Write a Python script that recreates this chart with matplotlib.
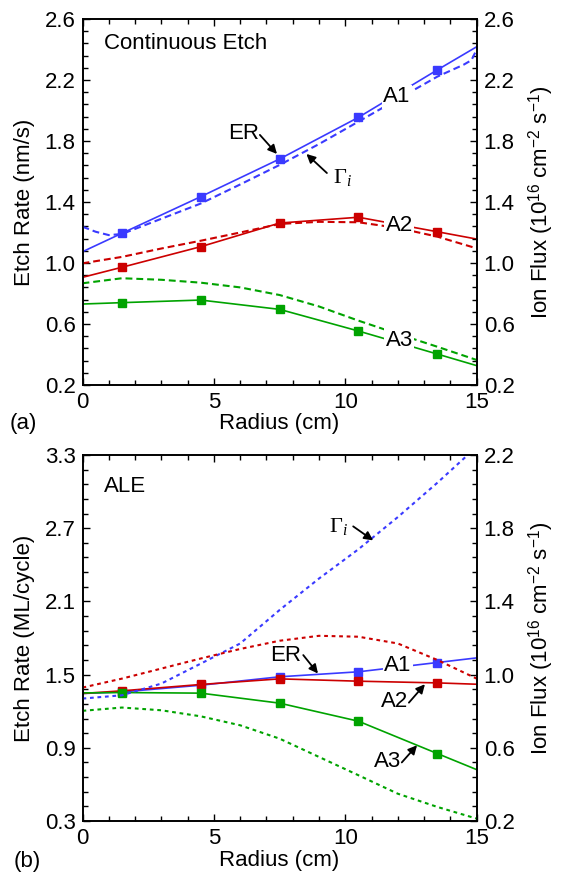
import numpy as np
import matplotlib
matplotlib.use('Agg')
import matplotlib.pyplot as plt
from matplotlib.ticker import MultipleLocator, FixedLocator, FormatStrFormatter

plt.rcParams['font.family'] = ['Liberation Sans', 'DejaVu Sans']
plt.rcParams['font.size'] = 16
plt.rcParams['mathtext.fontset'] = 'custom'
plt.rcParams['mathtext.rm'] = 'Liberation Sans'
plt.rcParams['mathtext.sf'] = 'Liberation Serif'
plt.rcParams['mathtext.it'] = 'Liberation Serif:italic'

# --- data -------------------------------------------------------------
# etch rate (solid, left axis): ends at 0 and 15, markers at 1.5 ... 13.5
r_er = [0, 1.5, 4.5, 7.5, 10.5, 13.5, 15]

# (a) continuous etch, nm/s
ce_er_a1 = [1.074, 1.195, 1.435, 1.682, 1.955, 2.266, 2.418]
ce_er_a2 = [0.906, 0.972, 1.107, 1.262, 1.300, 1.205, 1.157]
ce_er_a3 = [0.731, 0.740, 0.757, 0.696, 0.554, 0.403, 0.327]

# (a) ion flux (dashed, right axis), 1e16 cm-2 s-1
r_ce_a1 = [0, 0.5, 1.0, 1.5, 3, 4.5, 6, 7.5, 9, 10.5, 12, 13.5, 14.5, 14.8, 15]
ce_flux_a1 = [1.238, 1.205, 1.183, 1.190, 1.290, 1.390, 1.515, 1.643, 1.780,
              1.927, 2.075, 2.222, 2.300, 2.330, 2.400]
r_ce = [0, 1.5, 3, 4.5, 6, 7.5, 9, 10.5, 12, 13.5, 15]
ce_flux_a2 = [0.998, 1.040, 1.095, 1.146, 1.200, 1.256, 1.270, 1.267, 1.230, 1.173, 1.096]
ce_flux_a3 = [0.867, 0.900, 0.890, 0.871, 0.840, 0.790, 0.715, 0.622, 0.535, 0.451, 0.364]

# (b) ALE, ML/cycle
ale_er_a1 = [1.345, 1.358, 1.413, 1.482, 1.523, 1.599, 1.637]
ale_er_a2 = [1.345, 1.367, 1.419, 1.465, 1.446, 1.432, 1.421]
ale_er_a3 = [1.350, 1.353, 1.348, 1.266, 1.118, 0.853, 0.721]

# (b) ion flux
r_ale = [0, 1.5, 3, 4.5, 6, 7.5, 9, 10.5, 12, 13.5, 15]
ale_flux_a1 = [0.869, 0.887, 0.951, 1.060, 1.170, 1.353, 1.525, 1.685, 1.861, 2.048, 2.245]
ale_flux_a2 = [0.929, 0.978, 1.033, 1.088, 1.140, 1.185, 1.212, 1.207, 1.170, 1.080, 0.978]
ale_flux_a3 = [0.802, 0.820, 0.805, 0.772, 0.723, 0.650, 0.550, 0.450, 0.349, 0.277, 0.213]

blue = '#3a3aff'
red = '#cc0000'
green = '#00a300'

fig = plt.figure(figsize=(5.61, 8.75), dpi=100)
W, H = 561.0, 875.0
ax_a = fig.add_axes([82.5 / W, 1 - 385 / H, 394.2 / W, 366 / H])
ax_b = fig.add_axes([82.5 / W, 1 - 821 / H, 394.2 / W, 366 / H])


def style_axes(ax, tw, ylim, ymaj, ymin, y2lim, y2maj, y2min):
    ax.set_xlim(0, 15)
    ax.set_ylim(*ylim)
    tw.set_ylim(*y2lim)
    ax.xaxis.set_major_locator(MultipleLocator(5))
    ax.xaxis.set_minor_locator(MultipleLocator(1))
    # ticks start at the bottom limit, not at zero
    ax.yaxis.set_major_locator(FixedLocator(np.arange(ylim[0], ylim[1] + 1e-6, ymaj)))
    ax.yaxis.set_minor_locator(FixedLocator(np.arange(ylim[0], ylim[1] + 1e-6, ymin)))
    tw.yaxis.set_major_locator(FixedLocator(np.arange(y2lim[0], y2lim[1] + 1e-6, y2maj)))
    tw.yaxis.set_minor_locator(FixedLocator(np.arange(y2lim[0], y2lim[1] + 1e-6, y2min)))
    ax.yaxis.set_major_formatter(FormatStrFormatter('%.1f'))
    tw.yaxis.set_major_formatter(FormatStrFormatter('%.1f'))
    ax.tick_params(which='both', direction='in', top=True, right=False, width=1)
    ax.tick_params(which='major', length=5, pad=5)
    ax.tick_params(which='minor', length=3.5)
    tw.tick_params(which='both', direction='in', width=1)
    tw.tick_params(which='major', length=5, pad=5)
    tw.tick_params(which='minor', length=3.5)
    for s in ax.spines.values():
        s.set_linewidth(1.2)
    for s in tw.spines.values():
        s.set_linewidth(1.2)


lw = 1.2
ms = 5.5
mk = [1, 2, 3, 4, 5]

# ---------------- (a) continuous etch ----------------
tw_a = ax_a.twinx()
style_axes(ax_a, tw_a, (0.2, 2.6), 0.4, 0.08, (0.2, 2.6), 0.4, 0.08)
dash_a = (3.3, 1.9)
for er, col in [(ce_er_a1, blue), (ce_er_a2, red), (ce_er_a3, green)]:
    ax_a.plot(r_er, er, color=col, lw=lw, marker='s', ms=ms, markevery=mk)
tw_a.plot(r_ce_a1, ce_flux_a1, color=blue, lw=lw + 0.3, dashes=dash_a)
tw_a.plot(r_ce, ce_flux_a2, color=red, lw=lw + 0.3, dashes=dash_a)
tw_a.plot(r_ce, ce_flux_a3, color=green, lw=lw + 0.3, dashes=dash_a)

box = dict(facecolor='white', edgecolor='none', pad=1)
arrow = dict(arrowstyle='-|>', color='k', lw=1.3, mutation_scale=13, shrinkA=0, shrinkB=0)
tw_a.text(0.8, 2.44, 'Continuous Etch', ha='left', va='center')
tw_a.text(11.95, 2.09, 'A1', ha='center', va='center', bbox=box)
tw_a.text(12.05, 1.245, 'A2', ha='center', va='center', bbox=box)
tw_a.text(12.05, 0.495, 'A3', ha='center', va='center', bbox=box)
tw_a.text(6.13, 1.85, 'ER', ha='center', va='center')
tw_a.annotate('', xy=(7.4, 1.715), xytext=(6.75, 1.84), arrowprops=arrow)
tw_a.text(9.9, 1.56, r'$\mathsf{\Gamma}_{i}$', ha='center', va='center')
tw_a.annotate('', xy=(8.52, 1.715), xytext=(9.3, 1.59), arrowprops=arrow)

ax_a.text(-0.146, 0.5, 'Etch Rate (nm/s)', rotation=90, ha='center', va='center',
          transform=ax_a.transAxes)
ax_a.text(1.163, 0.5, 'Ion Flux (10$^{16}$ cm$^{-2}$ s$^{-1}$)', rotation=90,
          ha='center', va='center', transform=ax_a.transAxes)
ax_a.text(0.5, -0.105, 'Radius (cm)', ha='center', va='center', transform=ax_a.transAxes)
ax_a.text(-0.15, -0.105, '(a)', ha='center', va='center', transform=ax_a.transAxes)

# ---------------- (b) ALE ----------------
tw_b = ax_b.twinx()
style_axes(ax_b, tw_b, (0.3, 3.3), 0.6, 0.12, (0.2, 2.2), 0.4, 0.08)
dash_b = (1.8, 1.8)
for er, col in [(ale_er_a1, blue), (ale_er_a2, red), (ale_er_a3, green)]:
    ax_b.plot(r_er, er, color=col, lw=lw, marker='s', ms=ms, markevery=mk)
tw_b.plot(r_ale, ale_flux_a1, color=blue, lw=lw + 0.3, dashes=dash_b)
tw_b.plot(r_ale, ale_flux_a2, color=red, lw=lw + 0.3, dashes=dash_b)
tw_b.plot(r_ale, ale_flux_a3, color=green, lw=lw + 0.3, dashes=dash_b)

T = ax_b.transData
tw_b.text(0.8, 3.04, 'ALE', ha='left', va='center', transform=T)
tw_b.text(9.75, 2.71, r'$\mathsf{\Gamma}_{i}$', ha='center', va='center', transform=T)
tw_b.annotate('', xy=(11.06, 2.60), xytext=(10.3, 2.715), xycoords=T, textcoords=T,
              arrowprops=arrow)
tw_b.text(7.74, 1.66, 'ER', ha='center', va='center', transform=T)
tw_b.annotate('', xy=(8.96, 1.509), xytext=(8.4, 1.66), xycoords=T, textcoords=T,
              arrowprops=arrow)
tw_b.text(12.01, 1.577, 'A1', ha='center', va='center', bbox=box, transform=T)
tw_b.text(11.88, 1.277, 'A2', ha='center', va='center', transform=T)
tw_b.annotate('', xy=(13.03, 1.421), xytext=(12.42, 1.27), xycoords=T, textcoords=T,
              arrowprops=arrow)
tw_b.text(11.6, 0.784, 'A3', ha='center', va='center', transform=T)
tw_b.annotate('', xy=(12.73, 0.921), xytext=(12.15, 0.78), xycoords=T, textcoords=T,
              arrowprops=arrow)

ax_b.text(-0.146, 0.5, 'Etch Rate (ML/cycle)', rotation=90, ha='center', va='center',
          transform=ax_b.transAxes)
ax_b.text(1.163, 0.5, 'Ion Flux (10$^{16}$ cm$^{-2}$ s$^{-1}$)', rotation=90,
          ha='center', va='center', transform=ax_b.transAxes)
ax_b.text(0.5, -0.107, 'Radius (cm)', ha='center', va='center', transform=ax_b.transAxes)
ax_b.text(-0.14, -0.112, '(b)', ha='center', va='center', transform=ax_b.transAxes)

fig.savefig('out.png', dpi=100)
